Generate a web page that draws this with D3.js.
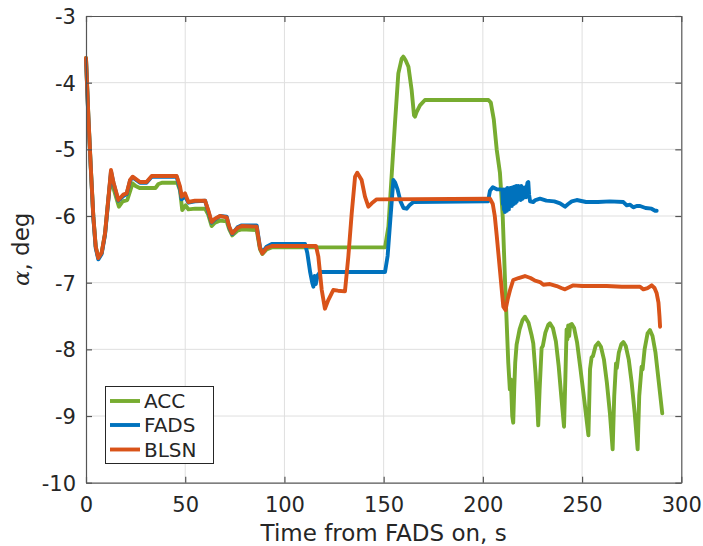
<!DOCTYPE html>
<html>
<head>
<meta charset="utf-8">
<script src="https://cdn.jsdelivr.net/npm/d3@7"></script>
<style>
  html, body { margin: 0; padding: 0; background: #fff; }
  svg { display: block; font-family: "DejaVu Sans", sans-serif; }
</style>
</head>
<body>
<svg id="chart" width="703" height="546"></svg>
<script>
// ---- data (time in s, alpha in deg) ----
const xTicks = [0, 50, 100, 150, 200, 250, 300];
const yTicks = [-10, -9, -8, -7, -6, -5, -4, -3];
const seriesNames = ["ACC", "FADS", "BLSN"];
const seriesColors = ["#77AC30", "#0072BD", "#D95319"];

const acc = [
  [0,-3.63],[1.2,-4.51],[2.4,-5.26],[3.7,-6.01],[4.9,-6.46],[6.2,-6.63],[7.9,-6.55],[9.6,-6.26],
  [11.2,-5.76],[12.6,-5.38],[13.5,-5.55],[15.2,-5.72],[16.6,-5.86],[18.5,-5.78],[20.8,-5.76],
  [22.5,-5.6],[23.5,-5.51],[25,-5.55],[27,-5.58],[35,-5.58],[36.5,-5.52],[38.5,-5.5],[46,-5.5],
  [47.4,-5.62],[48.5,-5.91],[50.2,-5.84],[51.6,-5.9],[55,-5.89],[60,-5.89],[61.6,-5.98],
  [63.3,-6.15],[65,-6.1],[67.5,-6.07],[70.9,-6.08],[72.2,-6.2],[73.7,-6.29],[76.3,-6.22],
  [78.5,-6.2],[86,-6.21],[87.7,-6.5],[88.9,-6.57],[91,-6.5],[93.6,-6.47],[150.7,-6.47],
  [152.4,-6.16],[154.1,-5.36],[155.7,-4.61],[157.4,-3.86],[159.1,-3.64],[159.9,-3.61],
  [161,-3.66],[162.5,-3.76],[164.1,-4.11],[165.3,-4.49],[165.8,-4.51],[166.6,-4.44],
  [168.3,-4.34],[170.8,-4.26],[202.8,-4.26],[204,-4.3],[205.5,-4.55],[207,-5.01],[208.6,-5.35],
  [210,-6.0],[211.2,-7.0],[212.8,-8.2],[213.6,-8.6],[214.1,-8.45],[214.8,-9.0],[215.3,-9.1],
  [215.8,-8.6],[216.3,-8.2],[217,-7.93],[218.5,-7.7],[220,-7.56],[221.2,-7.51],[223,-7.6],
  [224.5,-7.78],[225.4,-7.91],[226.5,-8.35],[227.3,-8.75],[227.9,-9.14],[228.6,-8.6],[229.6,-7.98],
  [230.2,-7.95],[231.5,-7.75],[233,-7.63],[233.8,-7.61],[235.3,-7.68],[236.8,-7.88],[238.2,-8.25],
  [239.5,-8.7],[240.9,-9.16],[241.6,-8.4],[242.2,-7.7],[242.6,-7.85],[243,-7.64],
  [243.5,-7.8],[244,-7.63],[244.8,-7.62],[246,-7.68],[247.5,-7.9],[249.2,-8.3],[251.1,-8.76],
  [253.2,-9.29],[254,-8.3],[254.8,-8.12],[255.5,-8.1],[256.8,-7.95],[258.2,-7.9],
  [259.5,-7.96],[261,-8.15],[262.5,-8.5],[264,-8.95],[265.4,-9.5],[266.2,-8.7],
  [267.1,-8.21],[267.5,-8.28],[268.5,-8.05],[269.8,-7.92],[270.8,-7.89],[272,-7.95],[273.5,-8.15],
  [275,-8.5],[276.5,-8.95],[278,-9.5],[278.8,-8.7],[280,-8.26],[280.5,-8.3],
  [281.5,-8.0],[283,-7.76],[284.2,-7.71],[285.5,-7.8],[287,-8.05],[288.5,-8.45],[290.4,-8.96]
];

const fads = [
  [0,-3.65],[1.2,-4.53],[2.4,-5.28],[3.7,-6.03],[4.9,-6.48],[6.2,-6.65],[7.9,-6.57],[9.6,-6.28],
  [11.2,-5.78],[12.6,-5.33],[13.8,-5.5],[16.3,-5.77],[18.8,-5.7],[20.5,-5.67],[22.2,-5.47],
  [23.5,-5.42],[27.2,-5.5],[30.5,-5.5],[33.1,-5.41],[45.7,-5.41],[47.4,-5.6],[48.2,-5.75],
  [49.9,-5.7],[51.6,-5.8],[54.9,-5.78],[60,-5.77],[61.6,-5.93],[63.3,-6.1],[65,-6.05],
  [67.5,-6.0],[70.9,-6.01],[72.2,-6.17],[73.7,-6.27],[76.3,-6.17],[78.5,-6.14],[86,-6.14],
  [87.7,-6.47],[88.9,-6.55],[91,-6.46],[93.6,-6.42],[110.4,-6.42],[111.5,-6.55],[113,-6.85],
  [114,-7.0],[114.6,-7.06],[115.2,-6.9],[115.8,-7.02],[116.7,-6.89],[118,-6.84],[150.7,-6.84],
  [152,-6.6],[153.5,-6.0],[154.9,-5.46],[155.8,-5.5],[157,-5.6],[158.5,-5.78],[160,-5.88],
  [161.6,-5.89],[163,-5.84],[165,-5.79],[202.6,-5.78],[203.6,-5.62],[205,-5.57],[207,-5.6],
  [209,-5.6],[209.8,-5.62],
  [210.1,-5.82],[210.35,-5.6],[210.6,-5.9],[210.85,-5.62],[211.1,-5.94],[211.35,-5.6],[211.6,-5.88],
  [211.85,-5.62],[212.1,-5.92],[212.35,-5.58],[212.6,-5.86],[212.85,-5.63],[213.1,-5.9],[213.35,-5.6],
  [213.6,-5.84],[213.85,-5.58],[214.1,-5.82],[214.35,-5.6],[214.6,-5.85],[214.85,-5.57],[215.1,-5.8],
  [215.35,-5.62],[215.6,-5.82],[215.85,-5.56],[216.1,-5.78],[216.35,-5.6],[216.6,-5.8],[216.85,-5.55],
  [217.1,-5.78],[217.35,-5.58],[217.6,-5.76],[217.85,-5.55],[218.1,-5.75],[218.35,-5.6],[218.6,-5.74],
  [218.85,-5.56],[219.1,-5.76],[219.35,-5.55],[219.6,-5.72],[219.85,-5.58],[220.1,-5.74],[220.35,-5.6],
  [220.6,-5.72],[220.85,-5.57],[221.1,-5.7],[221.4,-5.6],[221.7,-5.72],[222,-5.58],[222.5,-5.5],
  [222.9,-5.49],[223.3,-5.68],[223.8,-5.78],[225.4,-5.79],[226.5,-5.76],[228.8,-5.74],[232,-5.77],
  [236,-5.78],[238.9,-5.81],[241.4,-5.86],[243,-5.82],[244.8,-5.78],[247.3,-5.76],[252,-5.79],
  [258,-5.79],[264,-5.78],[270.8,-5.79],[272.5,-5.84],[274.2,-5.83],[275.8,-5.87],[277.5,-5.85],
  [279.2,-5.85],[282,-5.88],[285,-5.89],[286.8,-5.92],[287.6,-5.92]
];

const blsn = [
  [0,-3.63],[1.2,-4.51],[2.4,-5.26],[3.7,-6.01],[4.9,-6.46],[6.2,-6.63],[7.9,-6.55],[9.6,-6.26],
  [11.2,-5.76],[12.6,-5.31],[13.8,-5.49],[16.3,-5.76],[18.8,-5.68],[20.5,-5.66],[22.2,-5.46],
  [23.5,-5.41],[27.2,-5.49],[30.5,-5.49],[33.1,-5.4],[45.7,-5.4],[47.4,-5.56],[48.2,-5.71],
  [49.9,-5.66],[51.6,-5.79],[54.9,-5.77],[60,-5.77],[61.6,-5.91],[63.3,-6.09],[65,-6.04],
  [67.5,-6.0],[70.9,-6.02],[72.2,-6.16],[73.7,-6.26],[76.3,-6.18],[78.5,-6.15],[86,-6.16],
  [87.7,-6.48],[88.9,-6.56],[91,-6.48],[93.6,-6.45],[115.9,-6.45],[117.1,-6.61],[118.8,-7.11],
  [120.4,-7.39],[122.1,-7.26],[124.6,-7.11],[127,-7.12],[130.5,-7.13],[132.2,-6.61],
  [133.9,-5.96],[135.6,-5.41],[136.7,-5.35],[138.9,-5.46],[140.6,-5.71],[142.3,-5.86],
  [144,-5.81],[146.5,-5.75],[203.6,-5.74],[205,-5.82],[206,-6.0],[207,-6.3],[208.6,-6.81],
  [210.3,-7.36],[211.4,-7.41],[212.5,-7.25],[213.7,-7.11],[215.3,-6.96],[218,-6.93],[221.2,-6.9],
  [224,-6.93],[226.3,-6.97],[228.8,-6.99],[230.5,-7.03],[233.8,-7.02],[237.2,-7.05],
  [239.5,-7.08],[241.4,-7.1],[243.5,-7.07],[245.6,-7.04],[250,-7.05],[255,-7.05],[262.4,-7.05],
  [270,-7.06],[279.2,-7.06],[280.9,-7.1],[283,-7.08],[285.1,-7.04],[286.5,-7.08],[287.6,-7.16],
  [288.5,-7.3],[289,-7.5],[289.3,-7.66]
];

// ---- layout ----
const svg = d3.select("#chart");
const L = 86, R = 681.3, T = 16, B = 482.7;
const x = d3.scaleLinear().domain([0, 300]).range([L, R]);
const y = d3.scaleLinear().domain([-10, -3]).range([B, T]);
const axisColor = "#262626";
const tickFont = 21;

// grid
const grid = svg.append("g");
grid.selectAll(".gx").data(xTicks.slice(1, -1)).enter().append("line")
  .attr("x1", d => x(d)).attr("x2", d => x(d)).attr("y1", T).attr("y2", B)
  .attr("stroke", "#dfdfdf").attr("stroke-width", 1);
grid.selectAll(".gy").data(yTicks.slice(1, -1)).enter().append("line")
  .attr("y1", d => y(d)).attr("y2", d => y(d)).attr("x1", L).attr("x2", R)
  .attr("stroke", "#dfdfdf").attr("stroke-width", 1);

// axes (MATLAB-like: inward ticks, box)
const fmt = d => String(d);
const xAxisB = d3.axisBottom(x).tickValues(xTicks).tickFormat(fmt).tickSizeInner(-6).tickSizeOuter(0).tickPadding(14);
const xAxisT = d3.axisTop(x).tickValues(xTicks).tickSizeInner(-6).tickSizeOuter(0).tickFormat("");
const yAxisL = d3.axisLeft(y).tickValues(yTicks).tickFormat(fmt).tickSizeInner(-6).tickSizeOuter(0).tickPadding(10);
const yAxisR = d3.axisRight(y).tickValues(yTicks).tickSizeInner(-6).tickSizeOuter(0).tickFormat("");

function styleAxis(g) {
  g.select(".domain").attr("stroke", "#555").attr("stroke-width", 1.2);
  g.selectAll(".tick line").attr("stroke", "#555").attr("stroke-width", 1.2);
  g.selectAll(".tick text").attr("fill", axisColor).style("font-size", tickFont + "px")
    .style("font-family", "DejaVu Sans");
}

// lines
const line = d3.line().x(d => x(d[0])).y(d => y(d[1]));
const plots = [acc, fads, blsn];
svg.append("g").selectAll("path").data(plots).enter().append("path")
  .attr("d", d => line(d))
  .attr("fill", "none")
  .attr("stroke", (d, i) => seriesColors[i])
  .attr("stroke-width", 3.9)
  .attr("stroke-linejoin", "round")
  .attr("stroke-linecap", "round");

svg.append("g").attr("transform", `translate(0,${B})`).call(xAxisB).call(styleAxis);
svg.append("g").attr("transform", `translate(0,${T})`).call(xAxisT).call(styleAxis);
svg.append("g").attr("transform", `translate(${L},0)`).call(yAxisL).call(styleAxis)
  .selectAll(".tick text").attr("dy", "0.36em");
svg.append("g").attr("transform", `translate(${R},0)`).call(yAxisR).call(styleAxis);

// axis labels
svg.append("text")
  .attr("x", (L + R) / 2).attr("y", 541)
  .attr("text-anchor", "middle")
  .attr("fill", axisColor)
  .style("font-size", "23px")
  .text("Time from FADS on, s");

const yl = svg.append("text")
  .attr("transform", `translate(29,${(T + B) / 2}) rotate(-90)`)
  .attr("text-anchor", "middle")
  .attr("fill", axisColor)
  .style("font-size", "23px");
yl.append("tspan").style("font-family", "DejaVu Serif").style("font-style", "italic").text("α");
yl.append("tspan").text(", deg");

// legend
const lg = svg.append("g");
lg.append("rect").attr("x", 105.5).attr("y", 386.5).attr("width", 108).attr("height", 77)
  .attr("fill", "#fff").attr("stroke", axisColor).attr("stroke-width", 1);
const legY = [401, 425, 449.5];
seriesNames.forEach((name, i) => {
  lg.append("line").attr("x1", 110).attr("x2", 140).attr("y1", legY[i]).attr("y2", legY[i])
    .attr("stroke", seriesColors[i]).attr("stroke-width", 3.9);
  lg.append("text").attr("x", 144).attr("y", legY[i]).attr("dy", "0.36em")
    .attr("fill", axisColor).style("font-size", "20px").text(name);
});
</script>
</body>
</html>
